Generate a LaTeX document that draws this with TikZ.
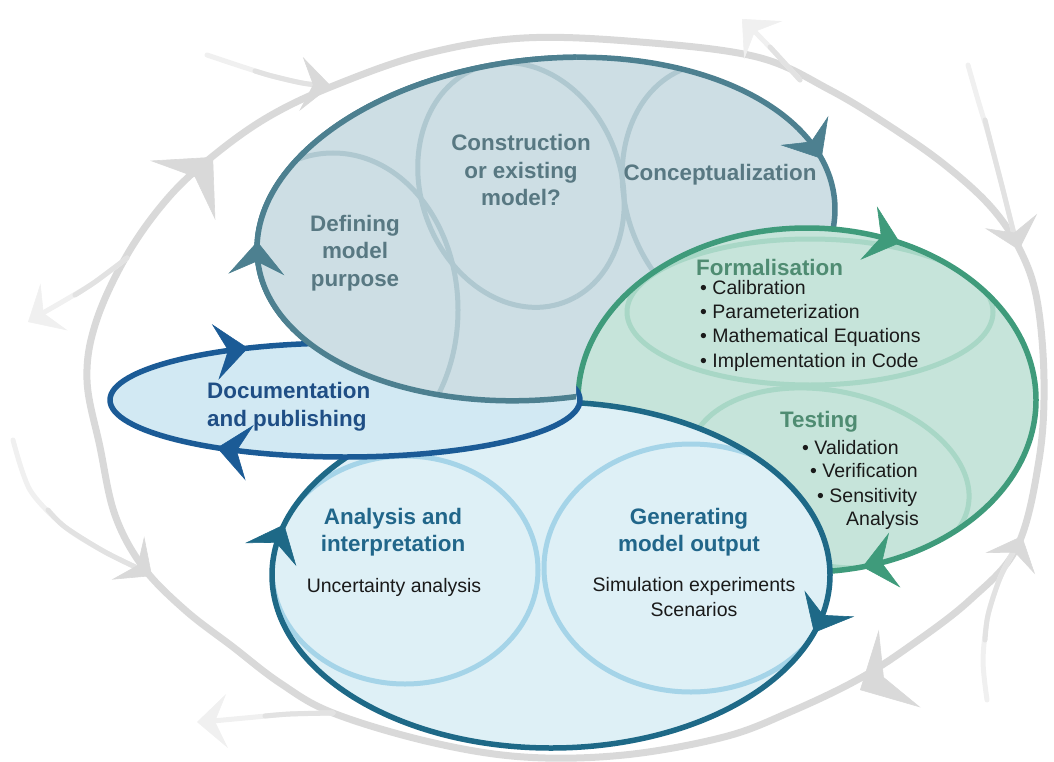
\documentclass[tikz,border=0pt]{standalone}
\usepackage{fontspec}
\setmainfont{Liberation Sans}
\usetikzlibrary{arrows.meta}
\definecolor{gfill}{HTML}{CDDEE4}
\definecolor{gline}{HTML}{4D8090}
\definecolor{gring}{HTML}{AFC8D0}
\definecolor{gtext}{HTML}{587882}
\definecolor{nfill}{HTML}{C6E4DA}
\definecolor{nline}{HTML}{3F9B7B}
\definecolor{nring}{HTML}{A8D7C6}
\definecolor{ntext}{HTML}{4F8C72}
\definecolor{lfill}{HTML}{DEF0F6}
\definecolor{lline}{HTML}{1E6987}
\definecolor{lring}{HTML}{A5D4E8}
\definecolor{ltext}{HTML}{21668A}
\definecolor{dfill}{HTML}{D2E9F3}
\definecolor{dline}{HTML}{1B5B96}
\definecolor{dtext}{HTML}{1F4E85}
\definecolor{oline}{HTML}{D9D9D9}
\definecolor{omid}{HTML}{E2E2E2}
\definecolor{ofade}{HTML}{F0F0F0}
\definecolor{txt}{HTML}{1A1A1A}
\tikzset{
  ttl/.style={font=\fontsize{22.4}{27.5}\selectfont\bfseries, align=center, inner sep=0pt},
  gtitle/.style={ttl, text=gtext},
  ntitle/.style={ttl, text=ntext},
  ltitle/.style={ttl, text=ltext, font=\fontsize{22.4}{26.5}\selectfont\bfseries},
  dtitle/.style={ttl, text=dtext, font=\fontsize{22.4}{28}\selectfont\bfseries},
  bodytext/.style={font=\fontsize{19.5}{24.3}\selectfont, inner sep=0pt, text=txt},
  ringline/.style={line width=5pt},
  rimline/.style={line width=5.5pt},
  cah/.style={line width=0.6pt, -{Stealth[length=33pt,width=56pt,inset=13pt]}},
  sah/.style={line width=0.6pt, -{Stealth[length=30pt,width=54pt,inset=12pt]}},
  bah/.style={line width=0.6pt, -{Stealth[length=45pt,width=88pt,inset=18pt]}},
  feed/.style={line width=5pt, line cap=round},
}
\newcommand\drawtopshape{%
  \fill[gfill, rotate around={6:(546,229)}] (546,229) ellipse [x radius=290pt, y radius=170pt];
  \begin{scope}
    \clip[rotate around={6:(546,229)}] (546,229) ellipse [x radius=290pt, y radius=170pt];
    \draw[gring, ringline] (333,310) ellipse [x radius=125pt, y radius=157pt];
    \draw[gring, ringline, rotate around={20:(521,185)}] (521,185) ellipse [x radius=100pt, y radius=125pt];
    \draw[gring, ringline, rotate around={20:(732,195)}] (732,195) ellipse [x radius=106pt, y radius=135pt];
  \end{scope}
  \draw[gline, rimline, rotate around={6:(546,229)}] (546,229) ellipse [x radius=290pt, y radius=170pt];
}
\begin{document}
\begin{tikzpicture}[x=1pt,y=-1pt,line join=round]
\useasboundingbox (0,0) rectangle (1054,762);

% ---------- outer grey loop ----------
\draw[oline, line width=7pt] plot[smooth cycle, tension=0.6] coordinates {
 (87,380) (96,322) (127,255) (168,198) (213,156) (268,117) (333,86) (425,54) (524,38)
 (640,42) (757,57) (830,90) (891,127) (945,165) (991,207) (1020,250) (1037,300)
 (1044,380) (1039,460) (1017,547) (970,600) (910,646) (857,680) (790,712) (724,737)
 (624,755) (524,757) (430,742) (333,713) (280,683) (233,647) (185,610) (143,567)
 (115,515) (100,447)};

% feeder arcs (fading into the loop)
\draw[ofade, feed] plot[smooth] coordinates {(207,55) (240,66) (272,76) (302,83) (326,86)};
\draw[omid, feed] plot[smooth] coordinates {(255,71) (272,76) (302,83) (326,86)};
\draw[ofade, feed] plot[smooth] coordinates {(968,65) (978,100) (990,140) (1003,190) (1015,238)};
\draw[omid, feed] plot[smooth] coordinates {(985,120) (990,140) (1003,190) (1015,238)};
\draw[ofade, feed] plot[smooth] coordinates {(987,700) (983,660) (988,615) (1000,578) (1017,545)};
\draw[omid, feed] plot[smooth] coordinates {(985,640) (988,615) (1000,578) (1017,545)};
\draw[ofade, feed] plot[smooth] coordinates {(13,440) (30,490) (65,527) (105,552) (146,572)};
\draw[omid, feed] plot[smooth] coordinates {(48,510) (65,527) (105,552) (146,572)};
% outward faded arcs
\draw[ofade, feed] plot[smooth] coordinates {(127,258) (95,282) (62,302) (34,318)};
\draw[omid, feed] plot[smooth] coordinates {(127,258) (95,282) (75,295)};
\draw[ofade, feed] plot[smooth] coordinates {(333,713) (290,714) (245,718) (202,722)};
\draw[omid, feed] plot[smooth] coordinates {(333,713) (290,714) (265,716)};
\draw[ofade, feed] plot[smooth] coordinates {(800,80) (780,58) (760,37) (746,23)};
\draw[omid, feed] plot[smooth] coordinates {(800,80) (780,58) (770,47)};

\coordinate (oA0) at (328,85.8);   \coordinate (oA) at (331,86);
\coordinate (oB0) at (1018.2,247.1); \coordinate (oB) at (1019,250);
\coordinate (oC0) at (1020.8,538.8); \coordinate (oC) at (1022,536);
\coordinate (oD0) at (149.6,574.2); \coordinate (oD) at (152,576);
\coordinate (oE0) at (30.6,320.5);  \coordinate (oE) at (28,322);
\coordinate (oF0) at (200,721.9);   \coordinate (oF) at (197,722);
\coordinate (oG0) at (744.1,21.1);  \coordinate (oG) at (742,19);
\coordinate (oH0) at (211,159.2);   \coordinate (oH) at (213,157);
\coordinate (oI0) at (862.6,688.6); \coordinate (oI) at (860,690);
\draw[oline, sah] (oA0) -- (oA);
\draw[oline, sah] (oB0) -- (oB);
\draw[oline, sah] (oC0) -- (oC);
\draw[oline, sah] (oD0) -- (oD);
\draw[ofade, sah] (oE0) -- (oE);
\draw[ofade, sah] (oF0) -- (oF);
\draw[ofade, sah] (oG0) -- (oG);
\draw[oline, bah] (oH0) -- (oH);
\draw[oline, bah] (oI0) -- (oI);

% ---------- top grey ellipse ----------
\drawtopshape

% ---------- green ellipse ----------
\fill[nfill] (807,400) ellipse [x radius=229pt, y radius=172pt];
\begin{scope}
  \clip (807,400) ellipse [x radius=229pt, y radius=172pt];
  \draw[nring, ringline] (810,312) ellipse [x radius=183pt, y radius=73pt];
  \draw[nring, ringline, rotate around={-12:(829,478)}] (829,478) ellipse [x radius=142pt, y radius=87pt];
\end{scope}
\draw[nline, rimline] (807,400) ellipse [x radius=229pt, y radius=172pt];
\coordinate (nA0) at ({807+229*cos(291)},{400+172*sin(291)});
\coordinate (nA) at ({807+229*cos(294)},{400+172*sin(294)});
\coordinate (nB0) at ({807+229*cos(73)},{400+172*sin(73)});
\coordinate (nB) at ({807+229*cos(76)},{400+172*sin(76)});
\draw[nline, cah] (nA0) -- (nA);
\draw[nline, cah] (nB0) -- (nB);

% ---------- lower ellipse ----------
\fill[lfill] (551,575) ellipse [x radius=279pt, y radius=173pt];
\begin{scope}
  \clip (551,575) ellipse [x radius=279pt, y radius=173pt];
  \draw[lring, ringline] (405,570) ellipse [x radius=133pt, y radius=114pt];
  \draw[lring, ringline] (691,568) ellipse [x radius=147pt, y radius=124pt];
\end{scope}
\draw[lline, rimline] (551,575) ellipse [x radius=279pt, y radius=173pt];
\coordinate (lA0) at ({551+279*cos(194)},{575+173*sin(194)});
\coordinate (lA) at ({551+279*cos(197)},{575+173*sin(197)});
\coordinate (lB0) at ({551+279*cos(16.5)},{575+173*sin(16.5)});
\coordinate (lB) at ({551+279*cos(19.5)},{575+173*sin(19.5)});
\draw[lline, cah] (lA0) -- (lA);
\draw[lline, cah] (lB0) -- (lB);

% ---------- documentation ellipse ----------
\fill[dfill] (345,400) ellipse [x radius=235pt, y radius=57pt];
\draw[dline, rimline] (345,400) ellipse [x radius=235pt, y radius=57pt];
\coordinate (dA0) at ({345+235*cos(242.6)},{400+57*sin(242.6)});
\coordinate (dA) at ({345+235*cos(245.6)},{400+57*sin(245.6)});
\coordinate (dB0) at ({345+235*cos(120)},{400+57*sin(120)});
\coordinate (dB) at ({345+235*cos(123)},{400+57*sin(123)});
\draw[dline, cah] (dA0) -- (dA);
\draw[dline, cah] (dB0) -- (dB);

% ---------- grey ellipse again over the documentation ellipse ----------
\begin{scope}
  \clip (0,0) rectangle (576,430);
  \drawtopshape
\end{scope}
\coordinate (gA0) at ({546+290*cos(183)*cos(6)+170*sin(183)*sin(6)},{229-290*cos(183)*sin(6)+170*sin(183)*cos(6)});
\coordinate (gA) at ({546+290*cos(186)*cos(6)+170*sin(186)*sin(6)},{229-290*cos(186)*sin(6)+170*sin(186)*cos(6)});
\coordinate (gB0) at ({546+290*cos(343)*cos(6)+170*sin(343)*sin(6)},{229-290*cos(343)*sin(6)+170*sin(343)*cos(6)});
\coordinate (gB) at ({546+290*cos(346)*cos(6)+170*sin(346)*sin(6)},{229-290*cos(346)*sin(6)+170*sin(346)*cos(6)});
\draw[gline, cah] (gA0) -- (gA);
\draw[gline, cah] (gB0) -- (gB);

% ---------- texts ----------
\node[gtitle] (defn) at (355,253) {Defining\\model\\purpose};
\node[gtitle] (cons) at (521,170) {Construction\\or existing\\model?};
\node[gtitle] (conc) at (720,175) {Conceptualization};
\node[ntitle, anchor=west] (formt) at (696,267) {Formalisation};
\node[bodytext, anchor=north west, align=left] (forml) at (700,280)
  {• Calibration\\• Parameterization\\• Mathematical Equations\\• Implementation in Code};
\node[ntitle] (testt) at (819,422) {Testing};
\node[bodytext, anchor=base west] (t1) at (802,454) {• Validation};
\node[bodytext, anchor=base west] (t2) at (810,477) {• Verification};
\node[bodytext, anchor=base west] (t3) at (817,502) {• Sensitivity};
\node[bodytext, anchor=base east] (t4) at (919,525) {Analysis};
\node[dtitle, anchor=north west, align=left] (doc) at (207,382) {Documentation\\and publishing};
\node[ltitle] (anal) at (393,532) {Analysis and\\interpretation};
\node[bodytext] (unc) at (394,587) {Uncertainty analysis};
\node[ltitle] (gen) at (689,532) {Generating\\model output};
\node[bodytext, align=center] (sim) at (694,597) {Simulation experiments\\Scenarios};
\end{tikzpicture}
\end{document}
